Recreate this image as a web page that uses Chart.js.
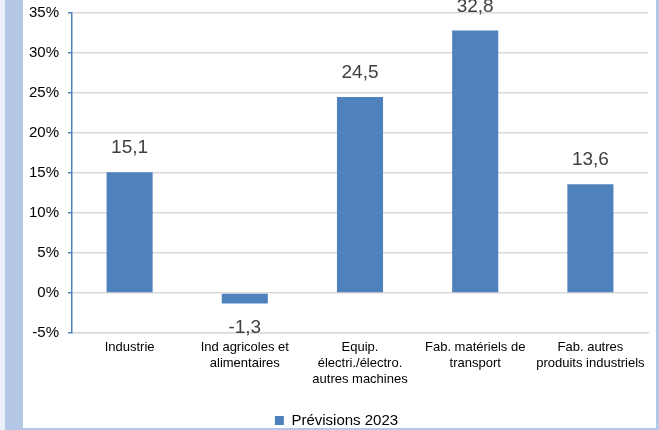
<!DOCTYPE html>
<html>
<head>
<meta charset="utf-8">
<script src="https://cdn.jsdelivr.net/npm/chart.js@4/dist/chart.umd.min.js"></script>
<style>
html,body{margin:0;padding:0;background:#fff;}
#wrap{position:relative;width:659px;height:430px;}
</style>
</head>
<body>
<div id="wrap"><canvas id="c" width="659" height="430"></canvas></div>
<script>
const categories = [
  "Industrie",
  ["Ind agricoles et", "alimentaires"],
  ["Equip.", "électri./électro.", "autres machines"],
  ["Fab. matériels de", "transport"],
  ["Fab. autres", "produits industriels"]
];
const previsions2023 = [15.1, -1.3, 24.5, 32.8, 13.6];
const seriesName = "Prévisions 2023";
const yMin = -5, yMax = 35, yStep = 5;

const frame = {
  id: 'frame',
  beforeDraw(chart) {
    const ctx = chart.ctx, w = chart.width, h = chart.height;
    ctx.save();
    ctx.fillStyle = '#ffffff';
    ctx.fillRect(0, 0, w, h);
    ctx.fillStyle = '#eaeff8';
    ctx.fillRect(0, 0, 5, h);
    ctx.fillStyle = '#b4c7e7';
    ctx.fillRect(5, 0, 18, h);
    ctx.fillRect(656, 0, 3, h);
    ctx.fillRect(23, 428, 636, 2);
    ctx.restore();
  }
};

const valueLabels = {
  id: 'valueLabels',
  afterDatasetsDraw(chart) {
    const ctx = chart.ctx;
    const meta = chart.getDatasetMeta(0);
    ctx.save();
    ctx.font = '19px "Liberation Sans", Arial, sans-serif';
    ctx.fillStyle = '#404040';
    ctx.textAlign = 'center';
    ctx.textBaseline = 'middle';
    meta.data.forEach((bar, i) => {
      const v = chart.data.datasets[0].data[i];
      const txt = v.toFixed(1).replace('.', ',');
      const y = v >= 0 ? bar.y - 24 : bar.y + 24;
      ctx.fillText(txt, bar.x, y);
    });
    ctx.restore();
  }
};

new Chart(document.getElementById('c'), {
  type: 'bar',
  data: {
    labels: categories,
    datasets: [{
      label: seriesName,
      data: previsions2023,
      backgroundColor: '#4f81bd',
      borderWidth: 0,
      barPercentage: 0.4,
      categoryPercentage: 1.0
    }]
  },
  options: {
    responsive: false,
    animation: false,
    layout: { padding: { left: 25, right: 11, top: 13, bottom: -8 } },
    plugins: {
      legend: {
        position: 'bottom',
        labels: {
          boxWidth: 9, boxHeight: 9,
          color: '#000',
          font: { family: '"Liberation Sans", Arial, sans-serif', size: 15 },
          padding: 1
        }
      },
      tooltip: { enabled: false }
    },
    scales: {
      x: {
        afterFit(scale) { scale.height = 79; scale.paddingLeft = 0; scale.paddingRight = 0; },
        grid: { display: false, drawTicks: false },
        border: { color: '#d9d9d9', width: 1.5 },
        ticks: {
          color: '#000',
          font: { family: '"Liberation Sans", Arial, sans-serif', size: 13, lineHeight: 1.2 },
          padding: 7,
          maxRotation: 0, autoSkip: false
        }
      },
      y: {
        min: yMin, max: yMax,
        afterFit(scale) { scale.width = 47; scale.paddingTop = 0; scale.paddingBottom = 0; },
        grid: { color: '#d9d9d9', lineWidth: 1.5, tickColor: '#4f81bd', tickLength: 4 },
        border: { color: '#4f81bd', width: 1.5 },
        ticks: {
          stepSize: yStep,
          color: '#000',
          padding: 9,
          font: { family: '"Liberation Sans", Arial, sans-serif', size: 15 },
          callback: v => v + '%'
        }
      }
    }
  },
  plugins: [frame, valueLabels]
});
</script>
</body>
</html>
